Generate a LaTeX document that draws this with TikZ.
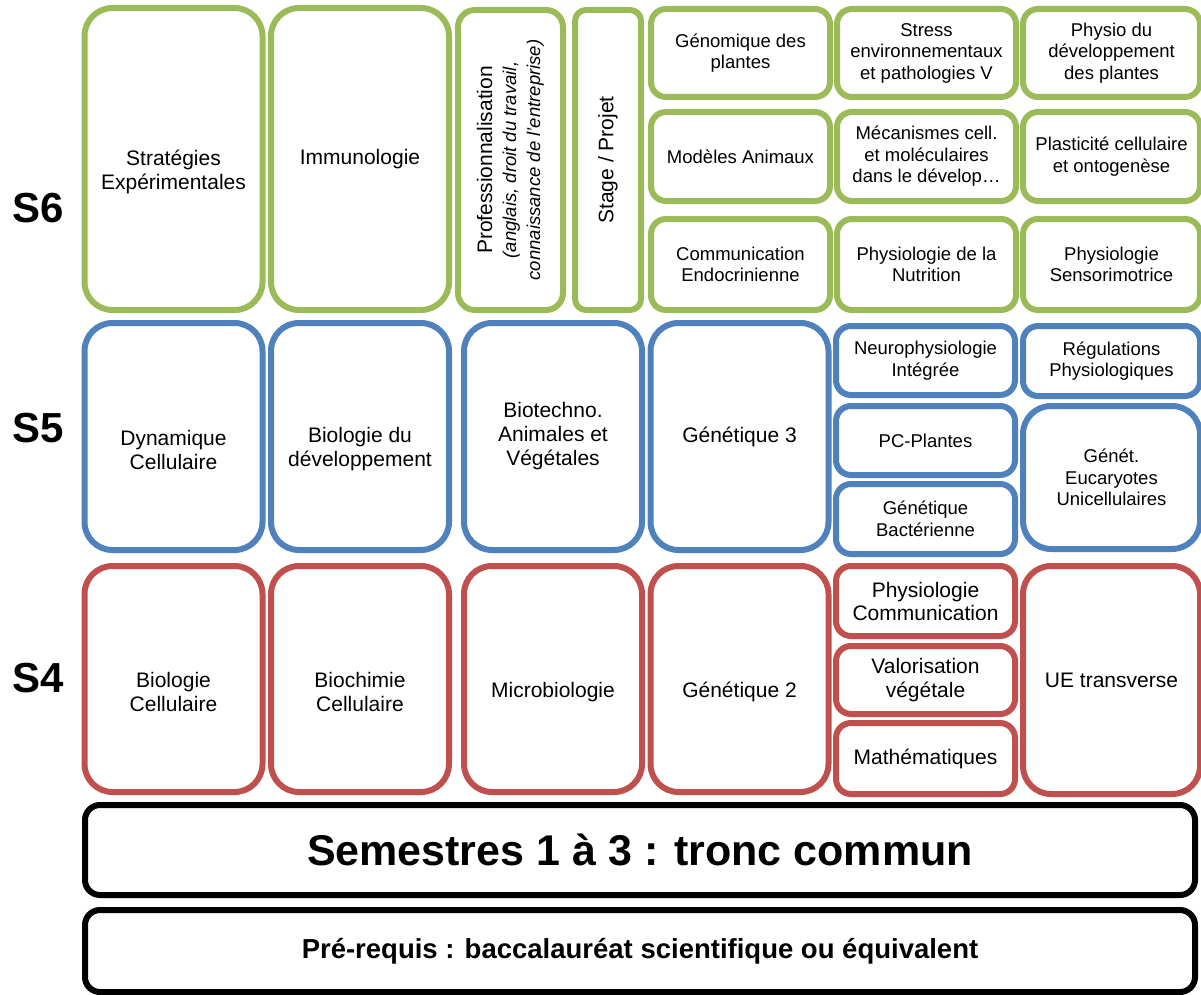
\documentclass[tikz,border=0pt]{standalone}
\usepackage{fontspec}
\setmainfont{Liberation Sans}
\definecolor{vert}{HTML}{9BBB59}
\definecolor{bleu}{HTML}{4F81BD}
\definecolor{rouge}{HTML}{C0504D}
\begin{document}
\begin{tikzpicture}[x=1pt,y=-1pt,
  ue/.style={draw, line width=6pt, fill=white, align=center, inner sep=0pt},
  s6/.style={ue, draw=vert}, s5/.style={ue, draw=bleu}, s4/.style={ue, draw=rouge},
  tc/.style={ue, draw=black, rounded corners=15pt, minimum width=1110pt, font=\bfseries},
  big/.style={rounded corners=28pt, minimum width=178pt, font=\fontsize{21}{24}\selectfont},
  small/.style={rounded corners=15pt, minimum width=179pt, font=\fontsize{18.5}{21.5}\selectfont},
  low/.style={align=center, inner sep=0pt, yshift=-13pt, font=\fontsize{21}{24}\selectfont},
  sem/.style={font=\fontsize{42}{48}\selectfont\bfseries}]
\useasboundingbox (0,0) rectangle (1201,995);
% S6
\node[sem] (l6) at (38,208) {S6};
\node[s6, big, minimum height=302pt, label={[low]center:Stratégies\\Expérimentales}] (strat) at (173.5,159) {};
\node[s6, big, minimum height=302pt] (immuno) at (360,159) {Immunologie};
\node[s6, rotate=90, rounded corners=17pt, minimum width=300pt, minimum height=105pt, font=\fontsize{21}{24}\selectfont] (pro) at (510.5,160) {Professionnalisation\\{\fontsize{18.5}{21.5}\selectfont\itshape (anglais, droit du travail,}\\{\fontsize{18.5}{21.5}\selectfont\itshape connaissance de l'entreprise)}};
\node[s6, rotate=90, rounded corners=11pt, minimum width=300pt, minimum height=66pt, font=\fontsize{21}{24}\selectfont] (stage) at (608,160) {Stage / Projet};
\node[s6, small, minimum height=88pt] (genom) at (740.5,53) {Génomique des\\plantes};
\node[s6, small, minimum height=89pt] (modani) at (740.5,156.5) {Modèles Animaux};
\node[s6, small, minimum height=91pt] (endoc) at (740.5,264.5) {Communication\\Endocrinienne};
\node[s6, small, minimum height=88pt] (stress) at (926.5,53) {Stress\\environnementaux\\et pathologies V};
\node[s6, small, minimum height=89pt] (meca) at (926.5,156.5) {Mécanismes cell.\\et moléculaires\\dans le dévelop…};
\node[s6, small, minimum height=91pt] (nutri) at (926.5,264.5) {Physiologie de la\\Nutrition};
\node[s6, small, minimum width=177pt, minimum height=88pt] (physdev) at (1111.5,53) {Physio du\\développement\\des plantes};
\node[s6, small, minimum width=177pt, minimum height=89pt] (plast) at (1111.5,156.5) {Plasticité cellulaire\\et ontogenèse};
\node[s6, small, minimum width=177pt, minimum height=91pt] (senso) at (1111.5,264.5) {Physiologie\\Sensorimotrice};
% S5
\node[sem] (l5) at (38,428) {S5};
\node[s5, big, minimum height=227pt, label={[low]center:Dynamique\\Cellulaire}] (dyn) at (173.5,436.5) {};
\node[s5, big, minimum height=227pt, label={[low]center:Biologie du\\développement}] (biodev) at (360,436.5) {};
\node[s5, big, minimum height=227pt] (biotech) at (553,436.5) {Biotechno.\\Animales et\\Végétales};
\node[s5, big, minimum height=227pt] (gen3) at (739.5,436.5) {Génétique 3};
\node[s5, small, minimum height=69pt] (neuro) at (925.5,360.5) {Neurophysiologie\\Intégrée};
\node[s5, small, minimum height=69pt] (pcpl) at (925.5,440.5) {PC-Plantes};
\node[s5, small, minimum height=70pt] (genbac) at (925.5,519) {Génétique\\Bactérienne};
\node[s5, small, minimum width=177pt, minimum height=70pt] (regul) at (1111.5,361) {Régulations\\Physiologiques};
\node[s5, big, minimum width=177pt, font=\fontsize{18.5}{21.5}\selectfont, minimum height=143pt] (euca) at (1111.5,477.5) {Génét.\\Eucaryotes\\Unicellulaires};
% S4
\node[sem] (l4) at (38,678) {S4};
\node[s4, big, minimum height=226pt, label={[low]center:Biologie\\Cellulaire}] (biocell) at (173.5,679) {};
\node[s4, big, minimum height=226pt, label={[low]center:Biochimie\\Cellulaire}] (biochim) at (360,679) {};
\node[s4, big, minimum height=226pt, label={[low]center:Microbiologie}] (micro) at (553,679) {};
\node[s4, big, minimum height=226pt, label={[low]center:Génétique 2}] (gen2) at (739.5,679) {};
\node[s4, small, minimum height=70pt, font=\fontsize{21}{23}\selectfont] (physcom) at (925.5,601) {Physiologie\\Communication};
\node[s4, small, minimum height=68pt, font=\fontsize{21}{24}\selectfont] (valo) at (925.5,680) {Valorisation\\végétale};
\node[s4, small, minimum height=71pt, font=\fontsize{21}{24}\selectfont] (maths) at (925.5,758.5) {Mathématiques};
\node[s4, big, minimum width=177pt, minimum height=228pt] (transv) at (1111.5,680) {UE transverse};
% tronc commun
\node[tc, minimum height=90pt, font=\fontsize{43}{48}\selectfont\bfseries] (tronc) at (640,850) {Semestres 1 à 3 : tronc commun};
\node[tc, minimum height=82pt, font=\fontsize{27.5}{32}\selectfont\bfseries] (prereq) at (640,951) {Pré-requis : baccalauréat scientifique ou équivalent};
\end{tikzpicture}
\end{document}
